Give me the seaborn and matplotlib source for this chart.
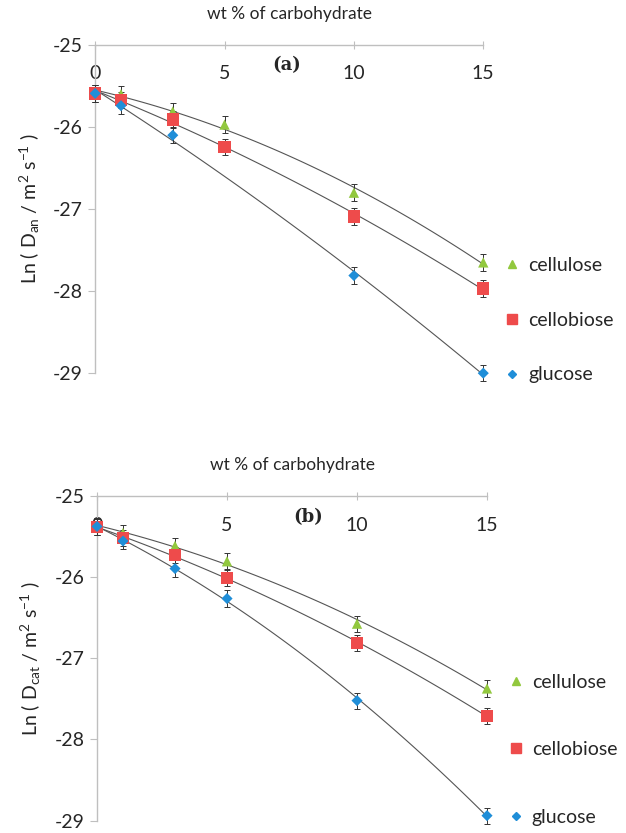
import numpy as np
import pandas as pd
import matplotlib
matplotlib.use("Agg")
import matplotlib.pyplot as plt
import seaborn as sns

# wt % of carbohydrate
wt = [0, 1, 3, 5, 10, 15]
wt_glucose_a = [0, 1, 3, 10, 15]

# panel (a): Ln(D_an)
an_cellulose = [-25.59, -25.60, -25.81, -25.97, -26.80, -27.65]
an_cellobiose = [-25.59, -25.67, -25.91, -26.24, -27.09, -27.97]
an_glucose = [-25.59, -25.74, -26.10, -27.81, -29.00]

# panel (b): Ln(D_cat)
cat_cellulose = [-25.37, -25.45, -25.61, -25.80, -26.57, -27.37]
cat_cellobiose = [-25.38, -25.51, -25.72, -26.01, -26.81, -27.71]
cat_glucose = [-25.37, -25.55, -25.89, -26.26, -27.52, -28.94]

err = 0.1
series = ["cellulose", "cellobiose", "glucose"]
colors = {"cellulose": "#92C83E", "cellobiose": "#EE4B4B", "glucose": "#1F8ED8"}
markers = {"cellulose": "^", "cellobiose": "s", "glucose": "D"}
msize = {"cellulose": 55, "cellobiose": 80, "glucose": 32}
yticks = [-25, -26, -27, -28, -29]
xticks = [0, 5, 10, 15]

sns.set_style("white")
plt.rcParams["font.family"] = ["Lato", "DejaVu Sans"]
plt.rcParams["axes.unicode_minus"] = False
plt.rcParams["mathtext.fontset"] = "custom"
plt.rcParams["mathtext.rm"] = "Lato"
plt.rcParams["mathtext.it"] = "Lato"


def make_df(cel, cb, glu, glu_x):
    parts = [
        pd.DataFrame({"wt": wt, "lnD": cel, "sugar": "cellulose"}),
        pd.DataFrame({"wt": wt, "lnD": cb, "sugar": "cellobiose"}),
        pd.DataFrame({"wt": glu_x, "lnD": glu, "sugar": "glucose"}),
    ]
    return pd.concat(parts, ignore_index=True)


def draw_panel(ax, df, ylab, tag, tag_x, spacing, leg_y):
    for s in series:
        d = df[df.sugar == s]
        sns.regplot(data=d, x="wt", y="lnD", order=2, ci=None, scatter=False,
                    ax=ax, line_kws=dict(color="#555555", lw=0.8))
        ax.errorbar(d.wt, d.lnD, yerr=err, fmt="none", ecolor="#333333",
                    elinewidth=0.7, capsize=2.5, capthick=0.7, clip_on=False, zorder=3)
    sns.scatterplot(data=df, x="wt", y="lnD", hue="sugar", style="sugar",
                    hue_order=series, style_order=series, palette=colors,
                    markers=markers, size="sugar", sizes=msize,
                    ax=ax, edgecolor="none", clip_on=False, zorder=4, legend=False)

    ax.set_xlim(0, 15)
    ax.set_ylim(-29, -25)
    ax.set_yticks(yticks)
    ax.set_xticks(xticks)
    ax.set_ylabel(ylab, fontsize=14, labelpad=8)
    ax.xaxis.set_label_position("top")
    ax.set_xlabel("wt % of carbohydrate", fontsize=12.5, labelpad=16)
    ax.tick_params(axis="x", bottom=False, labelbottom=False, top=True, labeltop=True,
                   direction="inout", length=6, pad=-30, labelsize=14, color="#BFBFBF")
    ax.tick_params(axis="y", left=True, direction="out", length=5, labelsize=14,
                   color="#BFBFBF", pad=4)
    for side in ["right", "bottom"]:
        ax.spines[side].set_visible(False)
    for side in ["left", "top"]:
        ax.spines[side].set_color("#BFBFBF")
        ax.spines[side].set_linewidth(1.0)
    ax.text(tag_x, -25.25, tag, fontsize=13, fontweight="bold",
            family="DejaVu Serif", ha="center", va="center")

    handles = [plt.Line2D([], [], ls="none", marker=markers[s], color=colors[s],
                          markersize=np.sqrt(msize[s]) * 0.75) for s in series]
    ax.legend(handles, series, loc="lower left", bbox_to_anchor=(1.04, leg_y),
              frameon=False, fontsize=14, labelspacing=spacing, handlelength=0.6,
              handletextpad=0.5, borderaxespad=0)


fig = plt.figure(figsize=(6.26, 8.33), dpi=100)
ax1 = fig.add_axes([0.152, 0.552, 0.620, 0.394])
ax2 = fig.add_axes([0.155, 0.015, 0.623, 0.389])

df_a = make_df(an_cellulose, an_cellobiose, an_glucose, wt_glucose_a)
df_b = make_df(cat_cellulose, cat_cellobiose, cat_glucose, wt)

draw_panel(ax1, df_a, r"Ln ( D$_{\rm an}$ / m$^2$ s$^{-1}$ )", "(a)", 7.4, 1.95, -0.055)
draw_panel(ax2, df_b, r"Ln ( D$_{\rm cat}$ / m$^2$ s$^{-1}$ )", "(b)", 8.1, 2.6, -0.04)

fig.savefig("out.png", dpi=100)
